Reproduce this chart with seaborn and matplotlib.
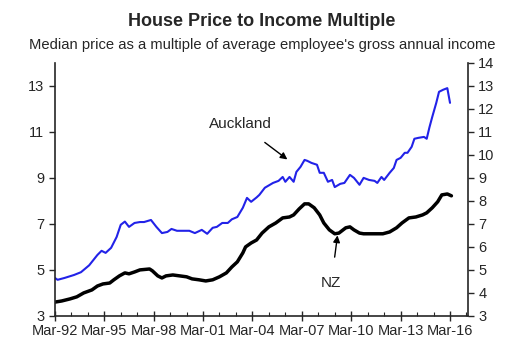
import pandas as pd
import matplotlib
matplotlib.use("Agg")
import matplotlib.pyplot as plt
import matplotlib.dates as mdates
import seaborn as sns

# Auckland: median house price / average income
auckland_dates = [
    "1992-03", "1992-05", "1992-10", "1993-05", "1993-10", "1994-04", "1994-10",
    "1995-01", "1995-04", "1995-08", "1995-12", "1996-03", "1996-06", "1996-09",
    "1997-01", "1997-05", "1997-08", "1998-01", "1998-05", "1998-09", "1999-01",
    "1999-04", "1999-08", "1999-11", "2000-05", "2000-09", "2001-02", "2001-06",
    "2001-10", "2002-01", "2002-05", "2002-09", "2002-12", "2003-04", "2003-08",
    "2003-11", "2004-02", "2004-06", "2004-08", "2004-12", "2005-06", "2005-10",
    "2006-01", "2006-03", "2006-06", "2006-09", "2006-11", "2007-02", "2007-05",
    "2007-07", "2007-10", "2008-02", "2008-04", "2008-07", "2008-10", "2009-01",
    "2009-03", "2009-07", "2009-10", "2010-02", "2010-05", "2010-09", "2010-12",
    "2011-04", "2011-08", "2011-10", "2012-01", "2012-03", "2012-07", "2012-10",
    "2012-12", "2013-03", "2013-06", "2013-08", "2013-11", "2014-01", "2014-04",
    "2014-08", "2014-10", "2014-12", "2015-02", "2015-05", "2015-07", "2015-10",
    "2016-01", "2016-03",
]
auckland_values = [
    4.65, 4.57, 4.65, 4.78, 4.90, 5.20, 5.65,
    5.83, 5.74, 5.96, 6.43, 6.96, 7.10, 6.87,
    7.04, 7.08, 7.08, 7.17, 6.87, 6.60, 6.65,
    6.78, 6.70, 6.70, 6.70, 6.60, 6.74, 6.57,
    6.83, 6.87, 7.04, 7.04, 7.20, 7.30, 7.70,
    8.13, 7.96, 8.15, 8.26, 8.57, 8.78, 8.87,
    9.04, 8.83, 9.04, 8.83, 9.26, 9.48, 9.78,
    9.74, 9.65, 9.57, 9.22, 9.22, 8.83, 8.91,
    8.60, 8.74, 8.78, 9.13, 9.00, 8.70, 9.00,
    8.91, 8.87, 8.78, 9.04, 8.91, 9.22, 9.43,
    9.78, 9.87, 10.09, 10.09, 10.35, 10.70, 10.74,
    10.78, 10.70, 11.20, 11.65, 12.26, 12.74, 12.83,
    12.90, 12.26,
]

# New Zealand
nz_dates = [
    "1992-03", "1992-08", "1993-02", "1993-07", "1993-12", "1994-06", "1994-10",
    "1995-02", "1995-07", "1995-10", "1996-02", "1996-06", "1996-09", "1997-01",
    "1997-05", "1997-12", "1998-02", "1998-06", "1998-09", "1998-12", "1999-05",
    "1999-10", "2000-03", "2000-07", "2000-12", "2001-05", "2001-10", "2002-03",
    "2002-08", "2002-12", "2003-04", "2003-08", "2003-10", "2004-02", "2004-06",
    "2004-10", "2005-03", "2005-08", "2006-01", "2006-06", "2006-09", "2007-01",
    "2007-05", "2007-08", "2007-12", "2008-04", "2008-07", "2008-11", "2009-03",
    "2009-06", "2009-11", "2010-02", "2010-05", "2010-09", "2010-12", "2011-08",
    "2012-02", "2012-07", "2012-12", "2013-04", "2013-09", "2014-02", "2014-07",
    "2014-10", "2015-02", "2015-06", "2015-09", "2016-01", "2016-04",
]
nz_values = [
    3.60, 3.65, 3.74, 3.83, 4.00, 4.13, 4.30,
    4.39, 4.43, 4.57, 4.74, 4.87, 4.83, 4.91,
    5.00, 5.04, 4.96, 4.74, 4.65, 4.74, 4.78,
    4.74, 4.70, 4.61, 4.57, 4.52, 4.57, 4.70,
    4.87, 5.13, 5.35, 5.74, 6.00, 6.17, 6.30,
    6.60, 6.87, 7.04, 7.26, 7.30, 7.39, 7.65,
    7.87, 7.87, 7.70, 7.39, 7.04, 6.74, 6.57,
    6.60, 6.83, 6.87, 6.74, 6.60, 6.57, 6.57,
    6.57, 6.65, 6.83, 7.04, 7.26, 7.30, 7.39,
    7.48, 7.70, 7.96, 8.26, 8.30, 8.22,
]

left_ticks = [3, 5, 7, 9, 11, 13]
right_ticks = list(range(3, 15))

auckland = pd.DataFrame({"date": pd.to_datetime(auckland_dates), "value": auckland_values})
nz = pd.DataFrame({"date": pd.to_datetime(nz_dates), "value": nz_values})

sns.set_style("ticks")
plt.rcParams["font.family"] = ["Liberation Sans", "DejaVu Sans"]

fig = plt.figure(figsize=(5.08, 3.59), dpi=100)
ax = fig.add_axes([0.108, 0.120, 0.813, 0.705])

sns.lineplot(data=auckland, x="date", y="value", ax=ax, color="#2222e8", linewidth=1.5)
sns.lineplot(data=nz, x="date", y="value", ax=ax, color="black", linewidth=2.5)

ax.set_ylim(3, 14)
ax.set_xlim(pd.Timestamp("1992-03-01"), pd.Timestamp("2017-04-01"))
ax.set_yticks(left_ticks)
ax.set_xlabel("")
ax.set_ylabel("")

ax.xaxis.set_major_locator(mdates.YearLocator(base=3, month=3, day=1))
ax.xaxis.set_minor_locator(mdates.YearLocator(base=1, month=3, day=1))
ax.xaxis.set_major_formatter(mdates.DateFormatter("%b-%y"))
ax.tick_params(axis="x", which="major", direction="inout", length=7, width=1, labelsize=10.5, pad=2)
ax.tick_params(axis="x", which="minor", direction="in", length=3, width=0.8)
ax.tick_params(axis="y", direction="out", length=4, width=1, labelsize=10.5)

ax.spines["top"].set_visible(False)
ax.spines["right"].set_visible(False)
for side in ["left", "bottom"]:
    ax.spines[side].set_linewidth(1.2)

ax2 = ax.twinx()
ax2.set_ylim(3, 14)
ax2.set_yticks(right_ticks)
ax2.tick_params(axis="y", direction="out", length=4, width=1, labelsize=10.5)
ax2.spines["top"].set_visible(False)
ax2.spines["left"].set_visible(False)
ax2.spines["bottom"].set_visible(False)
ax2.spines["right"].set_linewidth(1.2)

ax.annotate("Auckland", xy=(pd.Timestamp("2006-04-15"), 9.8),
            xytext=(pd.Timestamp("2003-06-01"), 11.35),
            ha="center", va="center", fontsize=11,
            arrowprops=dict(arrowstyle="-|>", color="black", lw=1,
                            shrinkA=10, shrinkB=0, mutation_scale=10))
ax.annotate("NZ", xy=(pd.Timestamp("2009-05-01"), 6.5),
            xytext=(pd.Timestamp("2008-12-15"), 4.45),
            ha="center", va="center", fontsize=11,
            arrowprops=dict(arrowstyle="-|>", color="black", lw=1,
                            shrinkA=11, shrinkB=0, mutation_scale=10))

fig.text(0.516, 0.939, "House Price to Income Multiple", ha="center", va="center",
         fontsize=13, fontweight="bold")
fig.text(0.516, 0.875, "Median price as a multiple of average employee's gross annual income",
         ha="center", va="center", fontsize=10.6)

fig.savefig("out.png", dpi=100)
